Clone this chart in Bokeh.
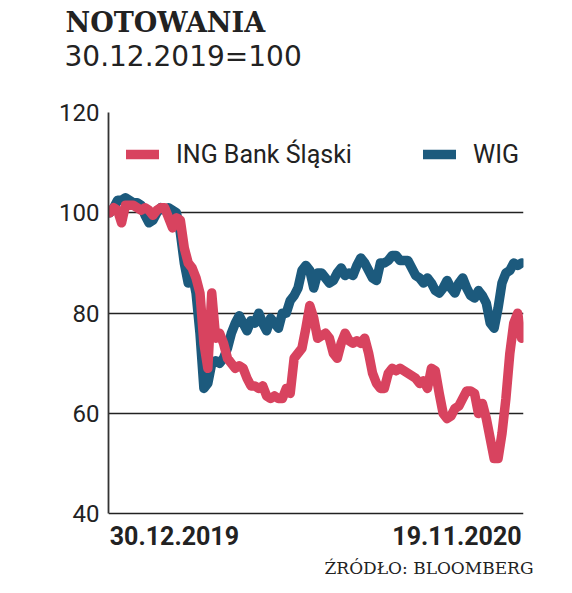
import pandas as pd
from bokeh.plotting import figure
from bokeh.models import Range1d, FixedTicker, Legend, LegendItem, Title
from bokeh.core.properties import value
from bokeh.embed import file_html
from bokeh.resources import INLINE

title_text = "NOTOWANIA"
subtitle_text = "30.12.2019=100"
source_text = "ŹRÓDŁO: BLOOMBERG"
start_label = "30.12.2019"
end_label = "19.11.2020"
series_names = ["ING Bank Śląski", "WIG"]
y_ticks = [40, 60, 80, 100, 120]

ing = [100, 101, 100.5, 98, 101.5, 101.5, 101.5, 101, 100.5, 101,
       100.5, 99.5, 100.5, 101, 101, 99, 97, 99, 98.5, 93,
       90, 89, 87, 84, 74, 69, 84, 75, 76, 74,
       71, 70, 69, 69.5, 69, 67, 65.5, 65.5, 65, 65.5,
       63.5, 63, 63.5, 63, 63, 65, 64, 71, 72, 73,
       77, 81.5, 79, 75, 75.5, 76, 75, 72, 71, 74,
       76, 74.5, 74, 74.5, 74, 75, 72, 68, 66, 65,
       65, 68, 69, 68.5, 69, 68.5, 68, 67.5, 67, 66,
       66.5, 65, 69, 68.5, 64, 60, 59, 59.5, 61, 61.5,
       63, 64.5, 64.5, 64, 60, 62, 59, 55, 51, 51,
       56, 63, 72, 78, 80, 75]

wig = [100, 101, 102.5, 102.5, 103, 102.5, 102, 102, 101.5, 99.5,
       98, 98.5, 100, 101, 100.5, 101, 100.5, 100, 96, 90,
       86, 88, 84, 76, 65, 66, 70, 70.5, 70, 71,
       73, 76, 78, 79.5, 78, 76.5, 78.5, 78, 80, 78,
       76.5, 79, 78, 77, 80, 80, 82.5, 83.5, 85, 88.5,
       89.5, 88.5, 85, 88, 88, 87, 86, 86.5, 88, 89,
       87.5, 88, 87.5, 89.5, 91, 90, 88.5, 87, 86.5, 90,
       90, 90.5, 91.5, 91.5, 90.5, 90.5, 90.5, 89, 87.5, 87,
       86, 87, 86, 84.5, 84, 85, 86.5, 85, 84, 86,
       87, 85, 83.5, 83, 84.5, 83.5, 82, 78, 77, 81,
       86, 88, 88.5, 90, 89.5, 90]

dates = pd.date_range("2019-12-30", "2020-11-19", periods=len(ing))

RED = "#d8435f"
BLUE = "#1c5a7d"
INK = "#222222"

p = figure(width=556, height=577, x_axis_type="datetime",
           output_backend="svg", toolbar_location=None,
           min_border_left=108, min_border_right=33,
           min_border_top=112, min_border_bottom=28)
p.x_range = Range1d(dates[0] - pd.Timedelta(days=1), dates[-1] + pd.Timedelta(days=1.5))
# frame extends a little below 40 so the date labels can sit under the base line
p.y_range = Range1d(33.68, 120)
p.outline_line_color = None
p.background_fill_color = "white"
p.border_fill_color = "white"

p.xgrid.visible = False
p.ygrid.ticker = FixedTicker(ticks=y_ticks)
p.ygrid.grid_line_color = INK
p.ygrid.grid_line_width = 1.5

p.yaxis.ticker = FixedTicker(ticks=y_ticks)
p.yaxis.bounds = (40, 120)
p.yaxis.axis_line_color = "#333333"
p.yaxis.axis_line_width = 1.8
p.yaxis.major_tick_line_color = None
p.yaxis.minor_tick_line_color = None
p.yaxis.major_label_standoff = 3
p.yaxis.major_label_text_font = "Roboto"
p.yaxis.major_label_text_font_size = "24px"
p.yaxis.major_label_text_color = INK
p.xaxis.visible = False

r_wig = p.line(dates, wig, line_color=BLUE, line_width=9.5,
               line_cap="round", line_join="round")
r_ing = p.line(dates, ing, line_color=RED, line_width=9.5,
               line_cap="round", line_join="round")

p.text(x=[dates[0]], y=[y_ticks[0]], text=[start_label], y_offset=22,
       text_font=value("Roboto"), text_font_style="bold", text_font_size="25px",
       text_color=INK, text_align="left", text_baseline="alphabetic")
p.text(x=[dates[-1]], y=[y_ticks[0]], text=[end_label], y_offset=22,
       text_font=value("Roboto"), text_font_style="bold", text_font_size="25px",
       text_color=INK, text_align="right", text_baseline="alphabetic")

legend = Legend(items=[LegendItem(label=series_names[0], renderers=[r_ing]),
                       LegendItem(label=series_names[1], renderers=[r_wig])],
                orientation="horizontal", location=(18, 375),
                padding=0, margin=0, spacing=14,
                glyph_width=33, glyph_height=32, label_height=32,
                label_width=233, label_standoff=17,
                label_text_font="Roboto", label_text_font_size="25px",
                label_text_color=INK,
                border_line_color=None, background_fill_alpha=0)
p.add_layout(legend, "center")

# above: spacer (next to the frame), subtitle, title (outermost)
p.add_layout(Title(text=" ", text_font="DejaVu Sans", text_font_size="10px",
                   standoff=26), "above")
p.add_layout(Title(text=subtitle_text, align="left", offset=-44,
                   text_font="DejaVu Sans", text_font_style="normal",
                   text_font_size="28px", text_color=INK, standoff=1), "above")
p.add_layout(Title(text=title_text, align="left", offset=-43,
                   text_font="DejaVu Serif", text_font_style="bold",
                   text_font_size="27px", text_color=INK, standoff=0), "above")
# below: spacer, then source line
p.add_layout(Title(text=" ", text_font="DejaVu Sans", text_font_size="6px",
                   standoff=1), "below")
p.add_layout(Title(text=source_text, align="right", offset=-10,
                   text_font="DejaVu Serif", text_font_style="normal",
                   text_font_size="17px", text_color=INK, standoff=0), "below")

open("out.html", "w").write(file_html(p, INLINE))
